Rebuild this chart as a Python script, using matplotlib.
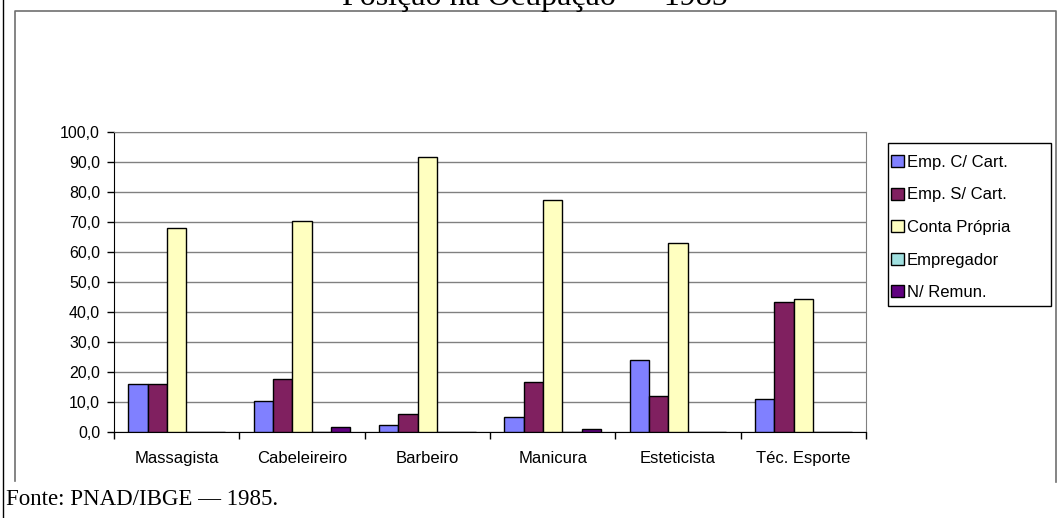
import numpy as np
import matplotlib
matplotlib.use('Agg')
from matplotlib import pyplot as plt
from matplotlib.lines import Line2D
from matplotlib.patches import Rectangle

categories = ['Massagista', 'Cabeleireiro', 'Barbeiro', 'Manicura', 'Esteticista', 'Téc. Esporte']
series_names = ['Emp. C/ Cart.', 'Emp. S/ Cart.', 'Conta Própria', 'Empregador', 'N/ Remun.']
emp_c_cart = [16.0, 10.4, 2.2, 5.0, 23.8, 11.1]
emp_s_cart = [16.0, 17.8, 6.0, 16.8, 12.1, 43.4]
conta_propria = [67.8, 70.1, 91.6, 77.2, 62.8, 44.3]
empregador = [0.0, 0.0, 0.0, 0.0, 0.0, 0.0]
n_remun = [0.0, 1.5, 0.0, 1.0, 0.0, 0.0]
colors = ['#8080FF', '#802060', '#FFFFC0', '#A0E0E0', '#600080']

W, H = 1058, 518
fig = plt.figure(figsize=(W / 100, H / 100), dpi=100)
ax = fig.add_axes([114 / W, 1 - 432 / H, (866 - 114) / W, (432 - 131.5) / H])

all_series = [emp_c_cart, emp_s_cart, conta_propria, empregador, n_remun]
w = 1 / 6.5
x = np.arange(len(categories))
handles = []
for j, (vals, col) in enumerate(zip(all_series, colors)):
    b = ax.bar(x + 0.75 * w + j * w, vals, width=w, align='edge', color=col,
               edgecolor='black', linewidth=1, zorder=3)
    handles.append(b)

ax.set_xlim(0, len(categories))
ax.set_ylim(0, 100)
ax.set_yticks(np.arange(0, 101, 10))
ax.set_yticklabels([f'{v:.1f}'.replace('.', ',') for v in np.arange(0, 101, 10)],
                   fontsize=11.5, family='Liberation Sans')
ax.yaxis.grid(True, color='#808080', linewidth=1, zorder=0)
ax.tick_params(axis='y', length=5, width=1, pad=5, direction='out')

ax.set_xticks(np.arange(0, len(categories) + 1))
ax.set_xticklabels([])
ax.set_xticks(x + 0.5, minor=True)
ax.set_xticklabels(categories, minor=True, fontsize=12, family='Liberation Sans')
ax.tick_params(axis='x', which='major', length=5, width=1, direction='out')
ax.tick_params(axis='x', which='minor', length=0, pad=14)

for s in ['top', 'right']:
    ax.spines[s].set_color('#808080')
for s in ['left', 'bottom']:
    ax.spines[s].set_color('black')

# legend with a separately drawn box
fig.add_artist(Rectangle((888 / W, 1 - 306 / H), (1051 - 888) / W, (306 - 143) / H,
                         transform=fig.transFigure, facecolor='white',
                         edgecolor='black', linewidth=1))
leg = fig.legend(handles, series_names, loc='upper left',
                 bbox_to_anchor=(891 / W, 1 - 155 / H), frameon=False,
                 prop={'family': 'Liberation Sans', 'size': 12},
                 handlelength=0.75, handleheight=0.75, handletextpad=0.2,
                 labelspacing=1.05, borderpad=0, borderaxespad=0)

# chart frame and page edge
fig.add_artist(Line2D([15 / W, 15 / W, 1056 / W, 1056 / W],
                      [1 - 481 / H, 1 - 11 / H, 1 - 11 / H, 1 - 482 / H],
                      transform=fig.transFigure, color='#707070', linewidth=1.2))
fig.add_artist(Line2D([2.5 / W, 2.5 / W], [0, 1], transform=fig.transFigure,
                      color='black', linewidth=1))

fig.text(535 / W, 1 - 5 / H, 'Posição na Ocupação — 1985', ha='center', va='baseline',
         fontsize=23, family='Liberation Serif')
fig.text(6 / W, 1 - 505 / H, 'Fonte: PNAD/IBGE — 1985.', ha='left', va='baseline',
         fontsize=16.5, family='Liberation Serif')

fig.savefig('out.png', dpi=100)
